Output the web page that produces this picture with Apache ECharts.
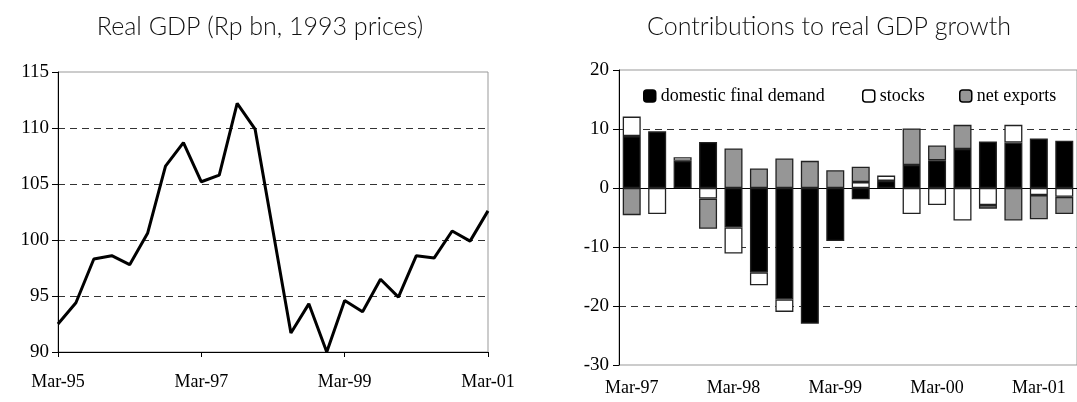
<!DOCTYPE html>
<html>
<head>
<meta charset="utf-8">
<script src="https://cdn.jsdelivr.net/npm/echarts@6/dist/echarts.min.js"></script>
<style>
html,body{margin:0;padding:0;background:#fff;}
#chart{width:1077px;height:402px;}
</style>
</head>
<body>
<div id="chart"></div>
<script>
// ---- Left chart: Real GDP (Rp bn, 1993 prices) ----
var gdpQuarters = ['Mar-95','Jun-95','Sep-95','Dec-95','Mar-96','Jun-96','Sep-96','Dec-96',
  'Mar-97','Jun-97','Sep-97','Dec-97','Mar-98','Jun-98','Sep-98','Dec-98',
  'Mar-99','Jun-99','Sep-99','Dec-99','Mar-00','Jun-00','Sep-00','Dec-00','Mar-01'];
var gdpValues = [92.5, 94.4, 98.3, 98.6, 97.8, 100.6, 106.6, 108.7, 105.2, 105.8, 112.2, 109.9,
  100.8, 91.7, 94.3, 90.0, 94.6, 93.6, 96.5, 94.9, 98.6, 98.4, 100.8, 99.9, 102.6];
var gdpTicks = [90, 95, 100, 105, 110, 115];

// ---- Right chart: Contributions to real GDP growth ----
var contribQuarters = ['Mar-97','Jun-97','Sep-97','Dec-97','Mar-98','Jun-98','Sep-98','Dec-98',
  'Mar-99','Jun-99','Sep-99','Dec-99','Mar-00','Jun-00','Sep-00','Dec-00','Mar-01','Jun-01'];
var domesticFinalDemand = [8.8, 9.6, 4.6, 7.8, -6.7, -14.3, -18.9, -23.0, -9.0, -1.9, 1.2, 3.9, 4.7, 6.6, 7.9, 7.7, 8.4, 8.0];
var stocks = [3.3, -4.4, 0.6, -1.8, -4.4, -2.2, -2.1, 0, 0, 1.0, 0.9, -4.4, -2.9, -5.5, -2.9, 3.0, -1.2, -1.5];
var netExports = [-4.6, 0, 0, -5.1, 6.7, 3.3, 5.0, 4.6, 3.0, 2.6, 0, 6.2, 2.5, 4.1, -0.6, -5.5, -4.1, -2.9];
var contribTicks = [-30, -20, -10, 0, 10, 20];
var seriesNames = ['domestic final demand', 'stocks', 'net exports'];

function nz(arr){ return arr.map(function(v){ return v === 0 ? null : v; }); }

var serif = '"Liberation Serif", "Times New Roman", serif';
var titleFont = 'Lato, "Open Sans", sans-serif';
var dashed = { show: true, lineStyle: { color: '#333', type: [7, 5], width: 1 } };
var fills = ['#000', '#fff', '#969696'];
var legendLeft = [638, 857, 954];

var legends = seriesNames.map(function(n, i){
  return {
    left: legendLeft[i], top: 82, itemWidth: 12, itemHeight: 12, itemGap: 5,
    textStyle: { fontFamily: serif, fontSize: 18, color: '#000' },
    data: [{ name: n, itemStyle: { color: fills[i], borderColor: '#000', borderWidth: 1.5 } }],
    selectedMode: false
  };
});

var chart = echarts.init(document.getElementById('chart'), null, { renderer: 'canvas' });
chart.setOption({
  animation: false,
  backgroundColor: '#fff',
  title: [
    { text: 'Real GDP (Rp bn, 1993 prices)', left: 255, top: 9, textAlign: 'center',
      textStyle: { fontFamily: titleFont, fontWeight: 300, fontSize: 25, color: '#111' } },
    { text: 'Contributions to real GDP growth', left: 824, top: 9, textAlign: 'center',
      textStyle: { fontFamily: titleFont, fontWeight: 300, fontSize: 25, color: '#111' } }
  ],
  legend: legends,
  grid: [
    { left: 58, right: 589, top: 72, bottom: 50, show: true, borderColor: '#999', borderWidth: 1 },
    { left: 619, right: -5, top: 70, bottom: 37, show: true, borderColor: '#999', borderWidth: 1 }
  ],
  xAxis: [
    { type: 'category', gridIndex: 0, data: gdpQuarters, boundaryGap: false,
      axisLine: { lineStyle: { color: '#000', width: 1 } },
      axisTick: { interval: 7, length: 5, lineStyle: { color: '#000' } },
      axisLabel: { interval: 7, margin: 21, fontFamily: serif, fontSize: 18, color: '#000' } },
    { type: 'category', gridIndex: 1, data: contribQuarters,
      axisLine: { onZero: true, lineStyle: { color: '#000', width: 1 } },
      axisTick: { interval: 3, length: 5, lineStyle: { color: '#000' } },
      axisLabel: { show: false } },
    { type: 'category', gridIndex: 1, data: contribQuarters, position: 'bottom',
      axisLine: { show: false, onZero: false }, axisTick: { show: false },
      axisLabel: { interval: 3, margin: 14, fontFamily: serif, fontSize: 18, color: '#000' } }
  ],
  yAxis: [
    { type: 'value', gridIndex: 0, min: gdpTicks[0], max: gdpTicks[gdpTicks.length-1], interval: 5,
      axisLine: { show: true, lineStyle: { color: '#000' } },
      axisTick: { show: true, length: 6, lineStyle: { color: '#000' } },
      axisLabel: { margin: 9, fontFamily: serif, fontSize: 19, color: '#000' },
      splitLine: Object.assign({ showMinLine: false, showMaxLine: false }, dashed) },
    { type: 'value', gridIndex: 1, min: contribTicks[0], max: contribTicks[contribTicks.length-1], interval: 10,
      axisLine: { show: true, lineStyle: { color: '#000' } },
      axisTick: { show: true, length: 6, lineStyle: { color: '#000' } },
      axisLabel: { margin: 10, fontFamily: serif, fontSize: 19, color: '#000' },
      splitLine: Object.assign({ showMinLine: false, showMaxLine: false }, dashed) }
  ],
  series: [
    { type: 'line', xAxisIndex: 0, yAxisIndex: 0, data: gdpValues, showSymbol: false, clip: false,
      lineStyle: { color: '#000', width: 3 }, itemStyle: { color: '#000' } },
    { name: seriesNames[0], type: 'bar', xAxisIndex: 1, yAxisIndex: 1, stack: 'c', barWidth: 18,
      data: nz(domesticFinalDemand), itemStyle: { color: fills[0], borderColor: '#222', borderWidth: 1.3 } },
    { name: seriesNames[1], type: 'bar', xAxisIndex: 1, yAxisIndex: 1, stack: 'c', barWidth: 18,
      data: nz(stocks), itemStyle: { color: fills[1], borderColor: '#222', borderWidth: 1.3 } },
    { name: seriesNames[2], type: 'bar', xAxisIndex: 1, yAxisIndex: 1, stack: 'c', barWidth: 18,
      data: nz(netExports), itemStyle: { color: fills[2], borderColor: '#222', borderWidth: 1.3 } }
  ]
});
</script>
</body>
</html>
